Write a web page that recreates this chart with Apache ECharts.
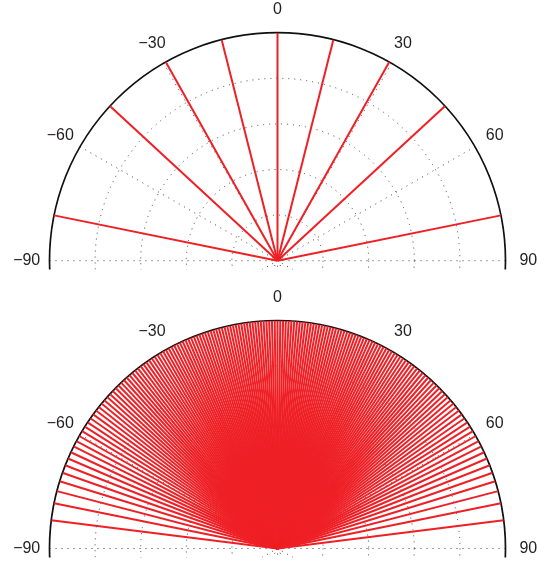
<!DOCTYPE html>
<html>
<head>
<meta charset="utf-8">
<script src="https://cdn.jsdelivr.net/npm/echarts@6/dist/echarts.min.js"></script>
<style>
html,body{margin:0;padding:0;background:#fff;}
#chart{width:545px;height:563px;}
</style>
</head>
<body>
<div id="chart"></div>
<script>
// Tick labels of the angle axis (degrees, 0 at top, clockwise positive)
const tickAngles = [-90, -60, -30, 0, 30, 60, 90];
const tickLabels = ['\u221290', '\u221260', '\u221230', '0', '30', '60', '90'];

// Top plot: ray directions (degrees)
const topAngles = [-78.53, -47.31, -29.34, -14.18, 0, 14.18, 29.34, 47.31, 78.53];

// Bottom plot: ray directions (degrees)
const bottomAngles = [
  -82.864, -78.532, -75.417, -72.847, -70.611, -68.597, -66.748, -65.027, -63.416, -61.886,
  -60.433, -59.038, -57.702, -56.411, -55.162, -53.950, -52.775, -51.631, -50.514, -49.423,
  -48.355, -47.309, -46.284, -45.277, -44.289, -43.316, -42.359, -41.416, -40.487, -39.570,
  -38.665, -37.772, -36.888, -36.015, -35.153, -34.299, -33.454, -32.617, -31.787, -30.964,
  -30.150, -29.342, -28.540, -27.743, -26.953, -26.168, -25.389, -24.615, -23.845, -23.079,
  -22.319, -21.562, -20.809, -20.060, -19.315, -18.573, -17.834, -17.098, -16.365, -15.635,
  -14.907, -14.182, -13.459, -12.738, -12.020, -11.303, -10.588, -9.875, -9.163, -8.453,
  -7.744, -7.036, -6.330, -5.624, -4.919, -4.215, -3.512, -2.809, -2.106, -1.404, -0.702,
  0,
  0.702, 1.404, 2.106, 2.809, 3.512, 4.215, 4.919, 5.624, 6.330, 7.036,
  7.744, 8.453, 9.163, 9.875, 10.588, 11.303, 12.020, 12.738, 13.459, 14.182,
  14.907, 15.635, 16.365, 17.098, 17.834, 18.573, 19.315, 20.060, 20.809, 21.562,
  22.319, 23.079, 23.845, 24.615, 25.389, 26.168, 26.953, 27.743, 28.540, 29.342,
  30.150, 30.964, 31.787, 32.617, 33.454, 34.299, 35.153, 36.015, 36.888, 37.772,
  38.665, 39.570, 40.487, 41.416, 42.359, 43.316, 44.289, 45.277, 46.284, 47.309,
  48.355, 49.423, 50.514, 51.631, 52.775, 53.950, 55.162, 56.411, 57.702, 59.038,
  60.433, 61.886, 63.416, 65.027, 66.748, 68.597, 70.611, 72.847, 75.417, 78.532, 82.864
];

const RED = '#ee2026';
const GRID = '#444';
const TEXT = '#231f20';
const FONT = '"Liberation Sans", Arial, sans-serif';

function axes(idx, z) {
  return {
    angle: {
      polarIndex: idx, type: 'value', min: -180, max: 180, interval: 30,
      startAngle: 270, clockwise: true, z: z,
      axisLine: { show: true, lineStyle: { color: '#111', width: 1.7 } },
      axisTick: { show: false },
      axisLabel: { show: false },
      splitLine: { show: true, lineStyle: { color: GRID, width: 1, type: [1, 5] } }
    },
    radius: {
      polarIndex: idx, type: 'value', min: 0, max: 1, interval: 0.2, z: z,
      axisLine: { show: false }, axisTick: { show: false }, axisLabel: { show: false },
      splitLine: { show: true, lineStyle: { color: GRID, width: 1, type: [1, 5] } }
    }
  };
}

const a0 = axes(0, 1), a1 = axes(1, 20);

function rays(angles, idx, z) {
  return angles.map(a => ({
    type: 'line', coordinateSystem: 'polar', polarIndex: idx,
    data: [[0, a], [1, a]], symbol: 'none', silent: true, z: z,
    lineStyle: { color: RED, width: 2 }, animation: false
  }));
}

function labels(idx, z) {
  return {
    type: 'scatter', coordinateSystem: 'polar', polarIndex: idx, z: z,
    data: tickAngles.map(a => [1.1, a]), symbolSize: 1, clip: false, silent: true,
    itemStyle: { color: 'rgba(0,0,0,0)' },
    label: {
      show: true, position: 'inside', opacity: 1,
      formatter: p => tickLabels[p.dataIndex],
      fontSize: 16, fontFamily: FONT, color: TEXT
    },
    animation: false
  };
}

const chart = echarts.init(document.getElementById('chart'), null, { renderer: 'canvas' });
chart.setOption({
  backgroundColor: '#fff',
  animation: false,
  polar: [
    { center: [277.5, 260.7], radius: 228 },
    { center: [277.5, 548.5], radius: 228 }
  ],
  angleAxis: [a0.angle, a1.angle],
  radiusAxis: [a0.radius, a1.radius],
  graphic: [
    { type: 'rect', shape: { x: 0, y: 269.5, width: 545, height: 300 }, style: { fill: '#fff' }, z: 10, silent: true },
    { type: 'rect', shape: { x: 0, y: 557.5, width: 545, height: 10 }, style: { fill: '#fff' }, z: 40, silent: true }
  ],
  series: [
    ...rays(topAngles, 0, 2),
    labels(0, 3),
    ...rays(bottomAngles, 1, 21),
    labels(1, 22)
  ]
});
</script>
</body>
</html>
